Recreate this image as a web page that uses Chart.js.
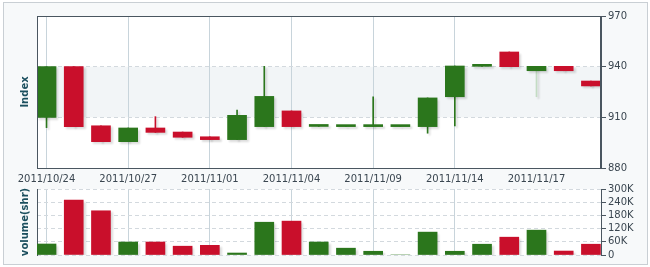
<!DOCTYPE html>
<html lang="en">
<head>
<meta charset="UTF-8" />
<title>Index / Volume</title>
<script src="https://cdn.jsdelivr.net/npm/chart.js"></script>
<style>
  body { margin: 0; background: #fff; }
  .frame { position: absolute; left: 3px; top: 2px; width: 643px; height: 261px; border: 1px solid #c9cfd4; background: #f7f9fa; }
  .box { position: absolute; left: 0; width: 650px; }
</style>
</head>
<body>
<div class="frame"></div>
<div class="box" style="top:0;height:190px"><canvas id="priceChart"></canvas></div>
<div class="box" style="top:180px;height:87px"><canvas id="volumeChart"></canvas></div>

<script>
// data
const dates = ["2011/10/24", "2011/10/25", "2011/10/26", "2011/10/27", "2011/10/28", "2011/10/31",
               "2011/11/01", "2011/11/02", "2011/11/03", "2011/11/04", "2011/11/07", "2011/11/08",
               "2011/11/09", "2011/11/10", "2011/11/11", "2011/11/14", "2011/11/15", "2011/11/16",
               "2011/11/17", "2011/11/18", "2011/11/21"];
const open  = [910, 940, 905, 895.6, 903.7, 901.3, 898.5, 896.8, 904.5, 913.8, 904.6, 904.5, 904.5, 904.5, 904.5, 922.2, 940.2, 948.7, 937.6, 940.2, 931.5];
const close = [940, 904.5, 895.6, 903.7, 901.1, 898.2, 896.8, 911.2, 922.4, 904.5, 904.6, 904.5, 904.5, 904.5, 921.5, 940.4, 940.2, 940, 940.2, 937.6, 928.6];
const high  = [940, 940, 905, 903.7, 910.4, 901.3, 898.5, 914.3, 940.2, 913.8, 904.6, 904.5, 922.2, 904.5, 921.5, 940.4, 940.2, 948.7, 940.2, 940.2, 931.5];
const low   = [903.9, 904.5, 895.6, 895.6, 901.1, 898.2, 896.8, 896.8, 904.5, 904.5, 904.6, 904.5, 904.5, 904.5, 900.6, 904.9, 940.2, 940, 922.2, 937.6, 928.6];
const volume = [50, 250, 201, 59, 59, 40, 44, 9, 149, 154, 59, 31, 17, 0, 104, 17, 49, 81, 113, 18, 49]; // thousands
const dateTicks = [0, 3, 6, 9, 12, 15, 18];
const priceTicks = [880, 910, 940, 970];
const volumeTicks = [0, 60, 120, 180, 240, 300];
const noGridAt = [18];
const fadedWick = [18];

const GREEN = "#2b761c", RED = "#c90f2b", DARK = "#4a5660", TXT = "#3a4650";
const up = close.map((c, i) => c >= open[i]);
const font = { family: "DejaVu Sans", size: 10 };
const xMin = -0.35, xMax = 20.37;

function fixWidth(w) { return (s) => { s.width = w; }; }

const panelBg = {
    id: "panelBg",
    beforeDraw(chart, args, opts) {
        const { ctx, chartArea: a } = chart;
        ctx.save();
        ctx.fillStyle = "#fff";
        ctx.fillRect(a.left, a.top, a.width, a.height);
        if (opts.band) {
            const y = chart.scales.y;
            ctx.fillStyle = "#f2f5f7";
            const y1 = y.getPixelForValue(opts.band[1]), y0 = y.getPixelForValue(opts.band[0]);
            ctx.fillRect(a.left, y1, a.width, y0 - y1);
        }
        ctx.restore();
    },
    beforeDatasetsDraw(chart) {
        const ctx = chart.ctx;
        ctx.save();
        ctx.shadowColor = "rgba(0,0,0,0.14)";
        ctx.shadowOffsetX = 2;
        ctx.shadowOffsetY = 2;
        ctx.shadowBlur = 2;
    },
    afterDatasetsDraw(chart) {
        chart.ctx.restore();
    },
    afterDraw(chart, args, opts) {
        if (!opts.box) return;
        const { ctx, chartArea: a } = chart;
        ctx.save();
        ctx.strokeStyle = DARK;
        ctx.lineWidth = 1;
        ctx.strokeRect(Math.round(a.left) + 0.5, Math.round(a.top) + 0.5, Math.round(a.width) - 1, Math.round(a.height));
        ctx.restore();
    }
};

function xAxis(showLabels) {
    return {
        type: "linear",
        min: xMin,
        max: xMax,
        offset: false,
        afterBuildTicks: (s) => { s.ticks = dateTicks.map(v => ({ value: v })); },
        afterFit: (s) => { s.height = showLabels ? 22 : 0; },
        ticks: { display: showLabels, font, color: TXT, padding: 5, maxRotation: 0, autoSkip: false,
                 callback: (v) => dates[v] },
        grid: { offset: false, drawTicks: false,
                color: (c) => noGridAt.includes(c.tick && c.tick.value) ? "rgba(0,0,0,0)" : "#c8d4db" },
        border: { display: false }
    };
}

function leftTitle(text) {
    return {
        position: "left",
        min: 0, max: 1,
        afterFit: fixWidth(37),
        ticks: { display: false },
        grid: { display: false, drawTicks: false },
        border: { display: true, color: DARK },
        title: { display: true, text, color: "#1b4f5e", font: { family: "DejaVu Sans", size: 10, weight: "bold" },
                 padding: { top: 19, bottom: 0 } }
    };
}

function rightAxis(ticks, min, max, fmt) {
    return {
        position: "right",
        min, max,
        afterFit: fixWidth(49),
        afterBuildTicks: (s) => { s.ticks = ticks.map(v => ({ value: v })); },
        ticks: { font, color: TXT, padding: 2, autoSkip: false, callback: fmt },
        grid: { color: "#d3d9de", tickColor: DARK, tickLength: 5 },
        border: { display: true, color: DARK, dash: [4, 3] }
    };
}

new Chart(document.getElementById("priceChart"), {
    type: "bar",
    data: {
        datasets: [
            {
                label: "body",
                xAxisID: "x",
                yAxisID: "y",
                data: dates.map((d, i) => ({ x: i, y: [open[i], close[i]] })),
                backgroundColor: up.map(u => u ? GREEN : RED),
                barThickness: 19,
                minBarLength: 2,
                grouped: false
            },
            {
                label: "wick",
                xAxisID: "x",
                yAxisID: "y",
                data: dates.map((d, i) => ({ x: i, y: [low[i], high[i]] })),
                backgroundColor: up.map((u, i) => fadedWick.includes(i) ? "#c3dcc3" : (u ? GREEN : RED)),
                barThickness: 1,
                grouped: false
            }
        ]
    },
    options: {
        responsive: true,
        maintainAspectRatio: false,
        animation: false,
        layout: { padding: { top: 16, left: 0, right: 0, bottom: 0 } },
        plugins: { legend: { display: false }, tooltip: { enabled: false },
                   panelBg: { band: [910, 940], box: true } },
        scales: {
            x: xAxis(true),
            y: rightAxis(priceTicks, 880, 970, (v) => v),
            yl: leftTitle("Index")
        }
    },
    plugins: [panelBg]
});

new Chart(document.getElementById("volumeChart"), {
    type: "bar",
    data: {
        datasets: [{
            label: "volume",
            xAxisID: "x",
            yAxisID: "y",
            data: dates.map((d, i) => ({ x: i, y: volume[i] })),
            backgroundColor: up.map(u => u ? GREEN : RED),
            barThickness: 19
        }]
    },
    options: {
        responsive: true,
        maintainAspectRatio: false,
        animation: false,
        layout: { padding: { top: 9, left: 0, right: 0, bottom: 12 } },
        plugins: { legend: { display: false }, tooltip: { enabled: false }, panelBg: {} },
        scales: {
            x: xAxis(false),
            y: rightAxis(volumeTicks, 0, 300, (v) => v ? v + "K" : "0"),
            yl: leftTitle("volume(shr)")
        }
    },
    plugins: [panelBg]
});
</script>
</body>
</html>
